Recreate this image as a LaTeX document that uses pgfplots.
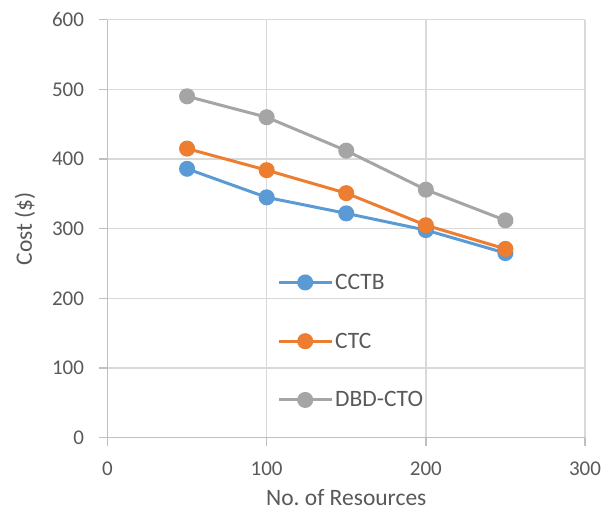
\documentclass[border=0pt]{standalone}
\usepackage{pgfplots}
\pgfplotsset{compat=1.18}
\usepackage{fontspec}
\setmainfont{Carlito}
\definecolor{cblue}{RGB}{91,155,213}
\definecolor{corange}{RGB}{237,125,49}
\definecolor{cgray}{RGB}{165,165,165}
\definecolor{gridc}{RGB}{217,217,217}
\definecolor{axc}{RGB}{191,191,191}
\definecolor{txt}{RGB}{89,89,89}
\begin{document}
\begin{tikzpicture}
\begin{axis}[
  scale only axis,
  width=477.5pt, height=418pt,
  xmin=0, xmax=300, ymin=0, ymax=600,
  xtick={0,100,200,300}, ytick={0,100,...,600},
  axis lines=left,
  axis line style={-, axc, line width=1.5pt},
  grid=major,
  major grid style={gridc, line width=1.5pt},
  tick align=outside,
  major tick length=8pt,
  tick style={axc, line width=1.5pt},
  /pgf/number format/assume math mode=true,
  ticklabel style={font=\fontsize{21}{25}\selectfont, text=txt},
  label style={font=\fontsize{23.5}{28}\selectfont, text=txt},
  xlabel={No.\ of Resources},
  ylabel={Cost (\$)},
  xticklabel style={yshift=-13pt},
  yticklabel style={xshift=-12pt},
  xlabel style={yshift=-7pt},
  ylabel style={yshift=10pt},
  every axis plot/.append style={line width=3pt, mark=*, mark size=6.5pt},
  legend image code/.code={\draw[#1, mark repeat=2, mark phase=2] plot coordinates {(0pt,0pt) (26.5pt,0pt) (53pt,0pt)};},
  legend style={at={(axis cs:106.5,238)}, anchor=north west, draw=none, fill=none,
    font=\fontsize{23.5}{28}\selectfont, text=txt, row sep=38pt, inner sep=0pt,
    nodes={inner sep=2pt}},
  legend cell align=left,
]
\addplot[cblue, mark options={fill=cblue, draw=cblue}] coordinates {(50,386) (100,345) (150,322) (200,298) (250,265)};
\addlegendentry{CCTB}
\addplot[corange, mark options={fill=corange, draw=corange}] coordinates {(50,415) (100,384) (150,351) (200,305) (250,271)};
\addlegendentry{CTC}
\addplot[cgray, mark options={fill=cgray, draw=cgray}] coordinates {(50,490) (100,460) (150,412) (200,356) (250,312)};
\addlegendentry{DBD-CTO}
\end{axis}
\pgfresetboundingbox
\path (current axis.south west) ++(-107.5pt,-73.3pt) rectangle ++(606pt,511pt);
\end{tikzpicture}
\end{document}
